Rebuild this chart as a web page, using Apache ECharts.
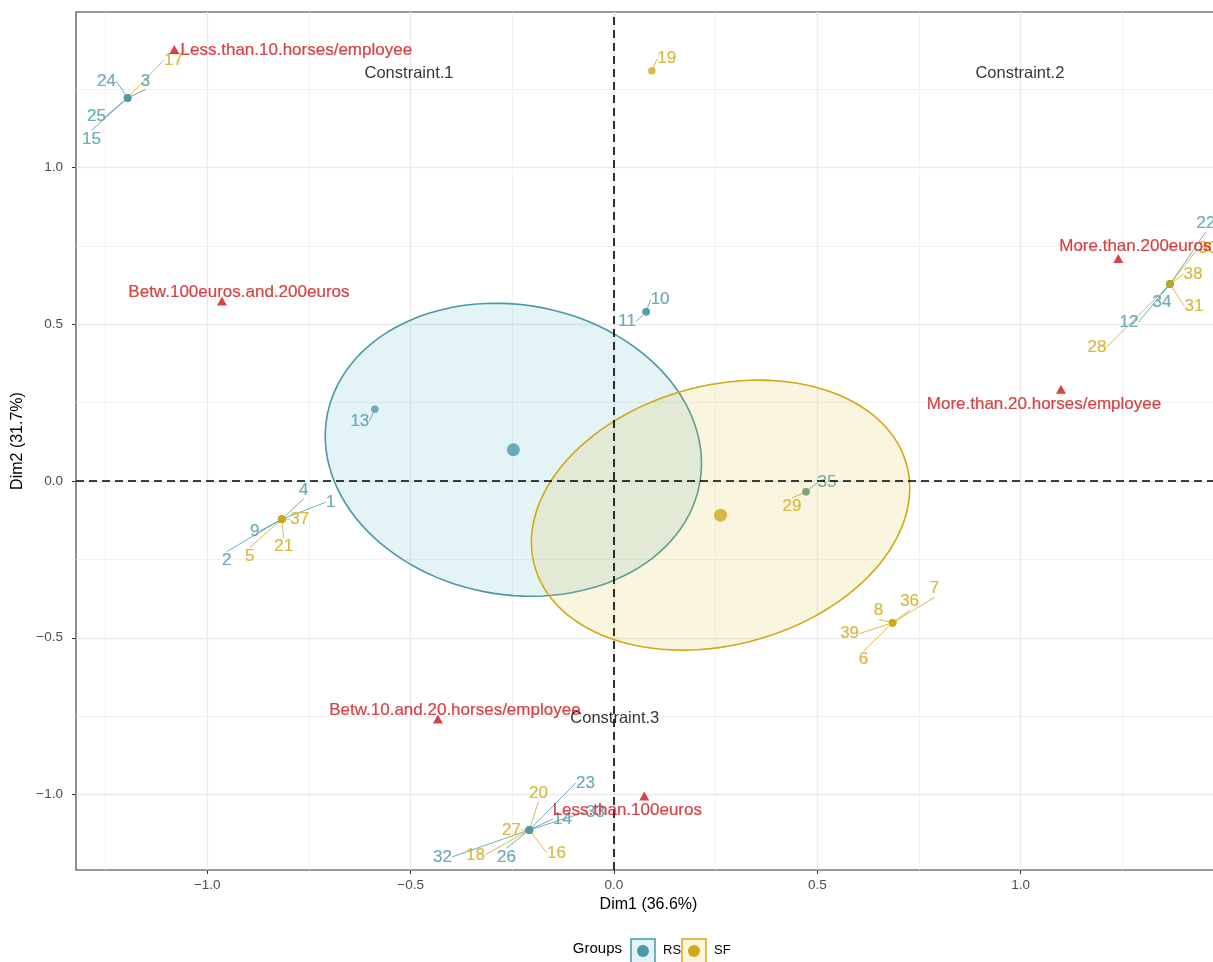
<!DOCTYPE html>
<html><head><meta charset="utf-8">
<script src="https://cdn.jsdelivr.net/npm/echarts@6/dist/echarts.min.js"></script>
<style>html,body{margin:0;padding:0;background:#fff}#c{width:1213px;height:962px}</style>
</head><body><div id="c"></div>
<script>
// ---------- data ----------
const indIds = ['1','2','3','4','5','6','7','8','9','10','11','12','13','14','15','16','17','18','19','20',
  '21','22','23','24','25','26','27','28','29','30','31','32','33','34','35','36','37','38','39'];
const indGroup = ['RS','RS','RS','RS','SF','SF','SF','SF','RS','RS','RS','RS','RS','RS','RS','SF','SF','SF','SF','SF',
  'SF','RS','RS','RS','RS','RS','SF','SF','SF','SF','SF','RS','RS','RS','RS','SF','SF','SF','SF'];
const indX = [-0.817,-0.817,-1.196,-0.817,-0.817,0.685,0.685,0.685,-0.817,0.079,0.079,1.367,-0.588,-0.208,-1.196,-0.208,-1.196,-0.208,0.093,-0.208,
  -0.817,1.367,-0.208,-1.196,-1.196,-0.208,-0.208,1.367,0.472,1.367,1.367,-0.208,-0.208,1.367,0.472,0.685,-0.817,1.367,0.685];
const indY = [-0.122,-0.122,1.222,-0.122,-0.122,-0.452,-0.452,-0.452,-0.122,0.540,0.540,0.628,0.229,-1.113,1.222,-1.113,1.222,-1.113,1.309,-1.113,
  -0.122,0.628,-1.113,1.222,1.222,-1.113,-1.113,0.628,-0.034,0.628,0.628,-1.113,-1.113,0.628,-0.034,-0.452,-0.122,0.628,-0.452];

const varNames = ['Less.than.10.horses/employee','Betw.100euros.and.200euros','More.than.200euros',
  'More.than.20.horses/employee','Betw.10.and.20.horses/employee','Less.than.100euros'];
const varX = [-1.081,-0.964,1.240,1.099,-0.433,0.0745];
const varY = [1.376,0.574,0.710,0.293,-0.759,-1.005];

const supNames = ['Constraint.1','Constraint.2','Constraint.3'];
const supX = [-0.504,0.998,0.002];
const supY = [1.301,1.301,-0.756];

const groups = ['RS','SF'];
const xTicks = [-1,-0.5,0,0.5,1];
const yTicks = [-1,-0.5,0,0.5,1];
const xMinor = [-1.25,-0.75,-0.25,0.25,0.75,1.25];
const yMinor = [-0.75,-0.25,0.25,0.75,1.25];
const chi2q = 5.991; // 95% chi-square quantile, 2 df

// ---------- layout / style ----------
const FONT = "'Liberation Sans', Arial, Helvetica, sans-serif";
const groupColor = {RS:'#4A99A7', SF:'#D2A815'};
const groupFill = {RS:'rgba(75,175,188,0.15)', SF:'rgba(215,188,35,0.15)'};
const RED = '#CC1519';
const indNudge = {
  '1':[49,-17],'2':[-55,41],'3':[18,-17],'4':[22,-29],'5':[-32,37],'6':[-29,37],'7':[42,-34],'8':[-14,-12],
  '9':[-27,12],'10':[14,-12],'11':[-19,10],'12':[-41,38],'13':[-15,12],'14':[33,-11],'15':[-36,41],'16':[27,23],
  '17':[46,-38],'18':[-54,25],'19':[15,-12],'20':[9,-37],'21':[2,27],'22':[36,-61],'23':[56,-47],'24':[-21,-17],
  '25':[-31,18],'26':[-23,27],'27':[-18,0],'28':[-73,63],'29':[-14,15],'30':[38,-36],'31':[24,22],'32':[-87,27],
  '33':[66,-18],'34':[-8,18],'35':[21,-9],'36':[17,-21],'37':[18,0],'38':[23,-10],'39':[-43,11]
};
const varNudge = [[122,1],[17,-9],[17,-12],[-17,15],[17,-9],[-17,14]];

const xMin = -1.3228, xMax = 1.4925, yMin = -1.2408, yMax = 1.496;

// ---------- derived ----------
function groupStats(g){
  const idx = indGroup.map((v,i)=>v===g?i:-1).filter(i=>i>=0);
  const n = idx.length;
  const mx = idx.reduce((s,i)=>s+indX[i],0)/n;
  const my = idx.reduce((s,i)=>s+indY[i],0)/n;
  let sxx=0, syy=0, sxy=0;
  idx.forEach(i=>{const dx=indX[i]-mx, dy=indY[i]-my; sxx+=dx*dx; syy+=dy*dy; sxy+=dx*dy;});
  sxx/= (n-1); syy/=(n-1); sxy/=(n-1);
  const a = sxx*chi2q/n, b = sxy*chi2q/n, d = syy*chi2q/n;
  const l11 = Math.sqrt(a), l21 = b/l11, l22 = Math.sqrt(d - l21*l21);
  const pts = [];
  const N = 120;
  for (let k=0;k<N;k++){
    const t = 2*Math.PI*k/N;
    pts.push([mx + l11*Math.cos(t), my + l21*Math.cos(t) + l22*Math.sin(t)]);
  }
  return {mx, my, pts};
}
const stats = groups.map(groupStats);

const fmt = v => (v<0?'\u2212':'') + Math.abs(v).toFixed(1);

const gridLines = [];
xMinor.forEach(v=>gridLines.push({xAxis:v, lineStyle:{color:'#EBEBEB', width:0.7, type:'solid'}}));
yMinor.forEach(v=>gridLines.push({yAxis:v, lineStyle:{color:'#EBEBEB', width:0.7, type:'solid'}}));
xTicks.forEach(v=>gridLines.push({xAxis:v, lineStyle:{color:'#EBEBEB', width:1.4, type:'solid'}}));
yTicks.forEach(v=>gridLines.push({yAxis:v, lineStyle:{color:'#EBEBEB', width:1.4, type:'solid'}}));

const indData = indIds.map((id,i)=>{
  const c = groupColor[indGroup[i]];
  return {
    value:[indX[i], indY[i]],
    name:id,
    itemStyle:{color:c},
    label:{color:c, textBorderColor:c, textBorderWidth:0.2},
    labelLine:{lineStyle:{color:c}}
  };
});

const chart = echarts.init(document.getElementById('c'), null, {renderer:'canvas'});
chart.setOption({
  animation:false,
  backgroundColor:'#fff',
  textStyle:{fontFamily:FONT},
  grid:{left:76, top:12, width:1145, height:858, show:true, borderColor:'#333333', borderWidth:1.1,
        backgroundColor:'#fff', containLabel:false, outerBoundsMode:'none'},
  xAxis:{type:'value', min:xMin, max:xMax,
    axisLine:{show:false, onZero:false}, splitLine:{show:false},
    axisTick:{show:true, customValues:xTicks, length:4, lineStyle:{color:'#333333', width:1}},
    axisLabel:{customValues:xTicks, formatter:fmt, color:'#4D4D4D', fontSize:13.5, margin:8, fontFamily:FONT},
    name:'Dim1 (36.6%)', nameLocation:'middle', nameGap:26,
    nameTextStyle:{fontSize:16, color:'#000', fontFamily:FONT}},
  yAxis:{type:'value', min:yMin, max:yMax,
    axisLine:{show:false, onZero:false}, splitLine:{show:false},
    axisTick:{show:true, customValues:yTicks, length:4, lineStyle:{color:'#333333', width:1}},
    axisLabel:{customValues:yTicks, formatter:fmt, color:'#4D4D4D', fontSize:13.5, margin:13, fontFamily:FONT},
    name:'Dim2 (31.7%)', nameLocation:'middle', nameGap:48, nameRotate:90,
    nameTextStyle:{fontSize:16, color:'#000', fontFamily:FONT}},
  series:[
    {type:'scatter', data:[], silent:true, z:0,
     markLine:{silent:true, z:0, symbol:['none','none'], label:{show:false}, animation:false, data:gridLines}},
    {type:'scatter', z:2, silent:true, symbolSize:7.5, data:indData,
     label:{show:true, position:'inside', formatter:p=>p.name, fontSize:17, fontFamily:FONT, align:'center', verticalAlign:'middle'},
     labelLine:{show:true, length2:0, lineStyle:{width:0.8}},
     labelLayout:function(p){ const id = indIds[p.dataIndex]; const o = indNudge[id]||[0,0]; return {dx:o[0], dy:o[1]}; },
     emphasis:{disabled:true}},
    {type:'custom', z:3, silent:true,
     data:stats.map(s=>[s.mx, s.my]),
     renderItem:function(params, api){
       const g = groups[params.dataIndex];
       const pts = stats[params.dataIndex].pts.map(p=>api.coord(p));
       return {type:'polygon', shape:{points:pts}, style:{fill:groupFill[g], stroke:groupColor[g], lineWidth:1.6}};
     }},
    {type:'scatter', data:[], silent:true, z:4,
     markLine:{silent:true, z:4, symbol:['none','none'], label:{show:false}, animation:false,
       data:[{xAxis:0},{yAxis:0}], lineStyle:{color:'#000', width:1.6, type:[8,5]}}},
    {type:'scatter', z:5, silent:true, symbolSize:13,
     data:stats.map((s,i)=>({value:[s.mx, s.my], itemStyle:{color:groupColor[groups[i]]}})),
     emphasis:{disabled:true}},
    {type:'scatter', z:5, silent:true, symbol:'triangle', symbolSize:[10,9],
     itemStyle:{color:RED},
     data:varNames.map((n,i)=>({value:[varX[i], varY[i]], name:n})),
     label:{show:true, position:'inside', formatter:p=>p.name, color:RED, textBorderColor:RED, textBorderWidth:0.2,
            fontSize:17, fontFamily:FONT, align:'center', verticalAlign:'middle'},
     labelLayout:function(p){ const o = varNudge[p.dataIndex]; return {dx:o[0], dy:o[1]}; },
     emphasis:{disabled:true}},
    {type:'scatter', z:6, silent:true, symbolSize:0,
     data:supNames.map((n,i)=>({value:[supX[i], supY[i]], name:n})),
     label:{show:true, position:'inside', formatter:p=>p.name, color:'#000', fontSize:16.5, fontFamily:FONT, align:'center', verticalAlign:'middle'},
     emphasis:{disabled:true}}
  ],
  graphic:[
    {type:'text', right:1213-622, top:941, style:{text:'Groups', fontSize:15, fontFamily:FONT, fill:'#000', textAlign:'right'}},
    {type:'rect', shape:{x:631, y:939, width:24, height:24}, style:{fill:'#E4F3F5', stroke:groupColor.RS, lineWidth:1.5}},
    {type:'circle', shape:{cx:643, cy:951, r:6}, style:{fill:groupColor.RS}},
    {type:'text', left:663, top:944, style:{text:'RS', fontSize:13, fontFamily:FONT, fill:'#000'}},
    {type:'rect', shape:{x:682, y:939, width:24, height:24}, style:{fill:'#F9F5DE', stroke:groupColor.SF, lineWidth:1.5}},
    {type:'circle', shape:{cx:694, cy:951, r:6}, style:{fill:groupColor.SF}},
    {type:'text', left:714, top:944, style:{text:'SF', fontSize:13, fontFamily:FONT, fill:'#000'}}
  ]
});
</script></body></html>
